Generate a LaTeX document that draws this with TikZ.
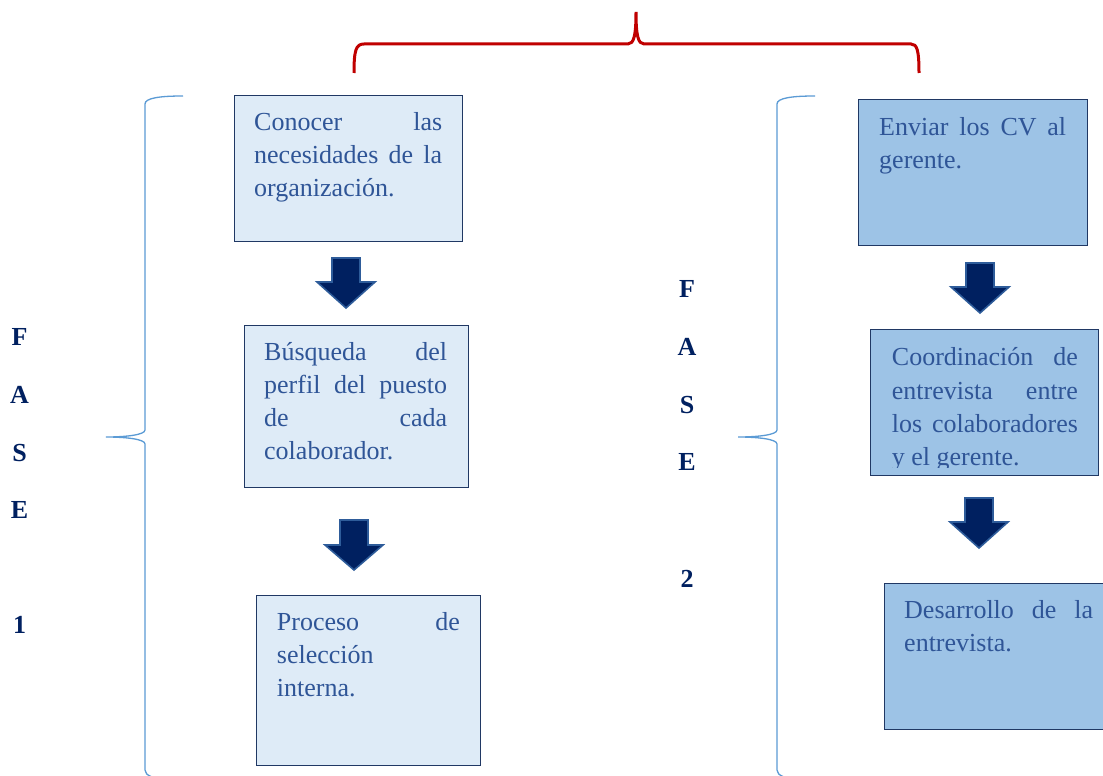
\documentclass[tikz,border=0pt]{standalone}
\usepackage{fontspec}
\setmainfont{Liberation Serif}
\definecolor{txtblue}{HTML}{2F5597}
\definecolor{navy}{HTML}{002060}
\definecolor{boxline}{HTML}{203864}
\definecolor{lightfill}{HTML}{DEEBF7}
\definecolor{midfill}{HTML}{9DC3E6}
\definecolor{bracecol}{HTML}{5B9BD5}
\definecolor{redcol}{HTML}{C00000}
\definecolor{arrowedge}{HTML}{2E5C9A}
\newcommand\boxtextfont{\fontsize{26}{33}\selectfont\tolerance=10000\relax\hyphenpenalty=10000\relax}
\newcommand\boxtextfontb{\fontsize{26}{33.4}\selectfont\tolerance=10000\relax\hyphenpenalty=10000\relax}
\begin{document}
\begin{tikzpicture}[x=1pt,y=-1pt,
  boxa/.style={draw=boxline, line width=1.2pt, fill=lightfill, anchor=north west, inner sep=0pt},
  boxb/.style={boxa, fill=midfill},
  txt/.style={anchor=base west, inner sep=0pt, text=txtblue, align=justify, font=\boxtextfont},
  fase/.style={anchor=base, inner sep=0pt, text=navy, font=\fontsize{26}{26}\selectfont\bfseries},
  bracel/.style={draw=bracecol, line width=1.3pt},
  bigarrow/.style={fill=navy, draw=arrowedge, line width=1.6pt, line join=miter}]
\clip (0,0) rectangle (1103,776);
\fill[white] (0,0) rectangle (1103,776);

% red top brace
\draw[redcol, line width=3pt] (354,73) .. controls (354,50) and (356,44) .. (364,44) -- (628,44)
  .. controls (634,44) and (636,35) .. (636,12)
  .. controls (636,35) and (638,44) .. (644,44) -- (911,44)
  .. controls (917,44) and (919,50) .. (919,73);

% blue side braces
\draw[bracel] (183,96) .. controls (160,96) and (145,98) .. (145,104) -- (145,430)
  .. controls (145,435) and (125,437) .. (106,437)
  .. controls (125,437) and (145,439) .. (145,444) -- (145,770)
  .. controls (145,773) and (147,775) .. (152,777);
\draw[bracel] (815,96) .. controls (792,96) and (777,98) .. (777,104) -- (777,430)
  .. controls (777,435) and (757,437) .. (738,437)
  .. controls (757,437) and (777,439) .. (777,444) -- (777,770)
  .. controls (777,773) and (779,775) .. (784,777);

% FASE labels
\node[fase] (f1F) at (19.5,345) {F};
\node[fase] (f1A) at (19.5,403) {A};
\node[fase] (f1S) at (19.5,461) {S};
\node[fase] (f1E) at (19.5,518) {E};
\node[fase] (f1N) at (19.5,633) {1};
\node[fase] (f2F) at (687,297) {F};
\node[fase] (f2A) at (687,355) {A};
\node[fase] (f2S) at (687,413) {S};
\node[fase] (f2E) at (687,470) {E};
\node[fase] (f2N) at (687,587) {2};

% boxes phase 1
\node[boxa, minimum width=228pt, minimum height=146pt] (b1) at (234,95) {};
\node[txt, text width=188pt] (t1) at (254,130.7) {Conocer las\linebreak necesidades de la\linebreak organización.};
\node[boxa, minimum width=224pt, minimum height=162pt] (b2) at (244,325) {};
\node[txt, text width=183pt] (t2) at (264,360.7) {Búsqueda del\linebreak perfil del puesto\linebreak de cada\linebreak colaborador.};
\node[boxa, minimum width=224pt, minimum height=170pt] (b3) at (256,595) {};
\node[txt, text width=183pt] (t3) at (276.7,630.7) {Proceso de\linebreak selección\\ interna.};

% boxes phase 2
\node[boxb, minimum width=229pt, minimum height=146pt] (b4) at (858,99) {};
\node[txt, text width=187pt] (t4) at (879,135) {Enviar los CV al\linebreak gerente.};
\node[boxb, minimum width=228pt, minimum height=146pt] (b5) at (870,329) {};
\begin{scope}
\clip (870,329) rectangle (1098,467);
\node[txt, text width=186pt, font=\boxtextfontb] (t5) at (891.7,365.7) {Coordinación de\linebreak entrevista entre\linebreak los colaboradores\linebreak y el gerente.};
\end{scope}
\node[boxb, minimum width=240pt, minimum height=146pt] (b6) at (884,583) {};
\node[txt, text width=189pt] (t6) at (904,618) {Desarrollo de la\linebreak entrevista.};

% block arrows
\draw[bigarrow] (332,258) -- (360,258) -- (360,282) -- (375,282) -- (346,308) -- (317,282) -- (332,282) -- cycle;
\draw[bigarrow] (340,520) -- (368,520) -- (368,545) -- (383,545) -- (354,570) -- (325,545) -- (340,545) -- cycle;
\draw[bigarrow] (966,263) -- (994,263) -- (994,287) -- (1009,287) -- (980,313) -- (951,287) -- (966,287) -- cycle;
\draw[bigarrow] (965,498) -- (993,498) -- (993,522) -- (1008,522) -- (979,548) -- (950,522) -- (965,522) -- cycle;
\end{tikzpicture}
\end{document}
